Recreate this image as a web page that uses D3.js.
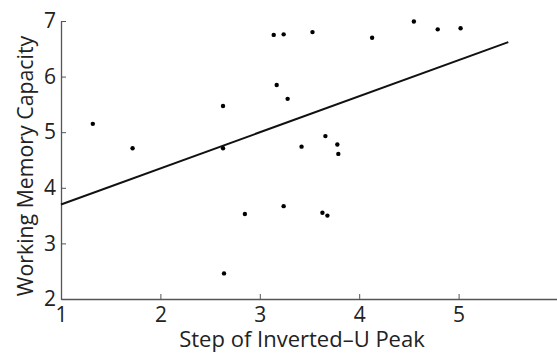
<!DOCTYPE html>
<html>
<head>
<meta charset="utf-8">
<script src="https://cdn.jsdelivr.net/npm/d3@7"></script>
<style>
  html, body { margin: 0; padding: 0; background: #fff; }
  svg { display: block; }
  text { font-family: "Open Sans", "Noto Sans", sans-serif; fill: #222; }
</style>
</head>
<body>
<svg id="chart" width="557" height="354"></svg>
<script>
// Step of inverted-U peak (x) vs. working memory capacity (y), one point per subject
const peakStep = [1.32, 1.72, 2.63, 2.63, 2.64, 2.85, 3.14, 3.17, 3.24, 3.28, 3.24,
                  3.53, 3.42, 3.66, 3.63, 3.68, 3.78, 3.79, 4.13, 4.55, 4.79, 5.02];
const wmCapacity = [5.15, 4.71, 5.47, 4.71, 2.46, 3.53, 6.75, 5.85, 6.76, 5.60, 3.67,
                    6.80, 4.74, 4.93, 3.55, 3.50, 4.78, 4.61, 6.70, 6.99, 6.85, 6.87];

// Least-squares fit line endpoints (x from 1 to 5.5)
const fitX = [1, 5.5];
const fitY = [3.70, 6.62];

const xTicks = [1, 2, 3, 4, 5];
const yTicks = [2, 3, 4, 5, 6, 7];
const xTitle = "Step of Inverted\u2013U Peak";
const yTitle = "Working Memory Capacity";

const svg = d3.select("#chart");
const x = d3.scaleLinear().domain([1, 6]).range([61, 558]);
const y = d3.scaleLinear().domain([2, 7]).range([299, 21]);

// Axes: ticks point inward
const xAxis = d3.axisBottom(x).tickValues(xTicks).tickSizeInner(-5).tickSizeOuter(0)
  .tickPadding(10).tickFormat(d3.format("d"));
const yAxis = d3.axisLeft(y).tickValues(yTicks).tickSizeInner(-5).tickSizeOuter(0)
  .tickPadding(10).tickFormat(d3.format("d"));

const gx = svg.append("g").attr("transform", `translate(0,${y(2)})`).call(xAxis);
const gy = svg.append("g").attr("transform", `translate(${x(1)},0)`).call(yAxis);

[gx, gy].forEach(g => {
  g.select(".domain").attr("stroke", "#555").attr("stroke-width", 1.3);
  g.selectAll(".tick line").attr("stroke", "#555").attr("stroke-width", 1);
  g.selectAll(".tick text").attr("font-size", 21).attr("fill", "#222")
    .attr("font-family", "'Open Sans', sans-serif");
});
gy.selectAll(".tick text").attr("dx", 5);
gx.selectAll(".tick text").attr("dy", "0.6em");

// Regression line
svg.append("line")
  .attr("x1", x(fitX[0])).attr("y1", y(fitY[0]))
  .attr("x2", x(fitX[1])).attr("y2", y(fitY[1]))
  .attr("stroke", "#111").attr("stroke-width", 2);

// Data points
svg.append("g").selectAll("circle")
  .data(d3.range(peakStep.length))
  .join("circle")
  .attr("cx", i => x(peakStep[i]))
  .attr("cy", i => y(wmCapacity[i]))
  .attr("r", 2.2)
  .attr("fill", "#000");

// Axis titles
svg.append("text")
  .attr("x", 302).attr("y", 347)
  .attr("text-anchor", "middle")
  .attr("font-size", 22)
  .text(xTitle);

svg.append("text")
  .attr("transform", "translate(33,166) rotate(-90)")
  .attr("text-anchor", "middle")
  .attr("font-size", 21.3)
  .text(yTitle);
</script>
</body>
</html>
